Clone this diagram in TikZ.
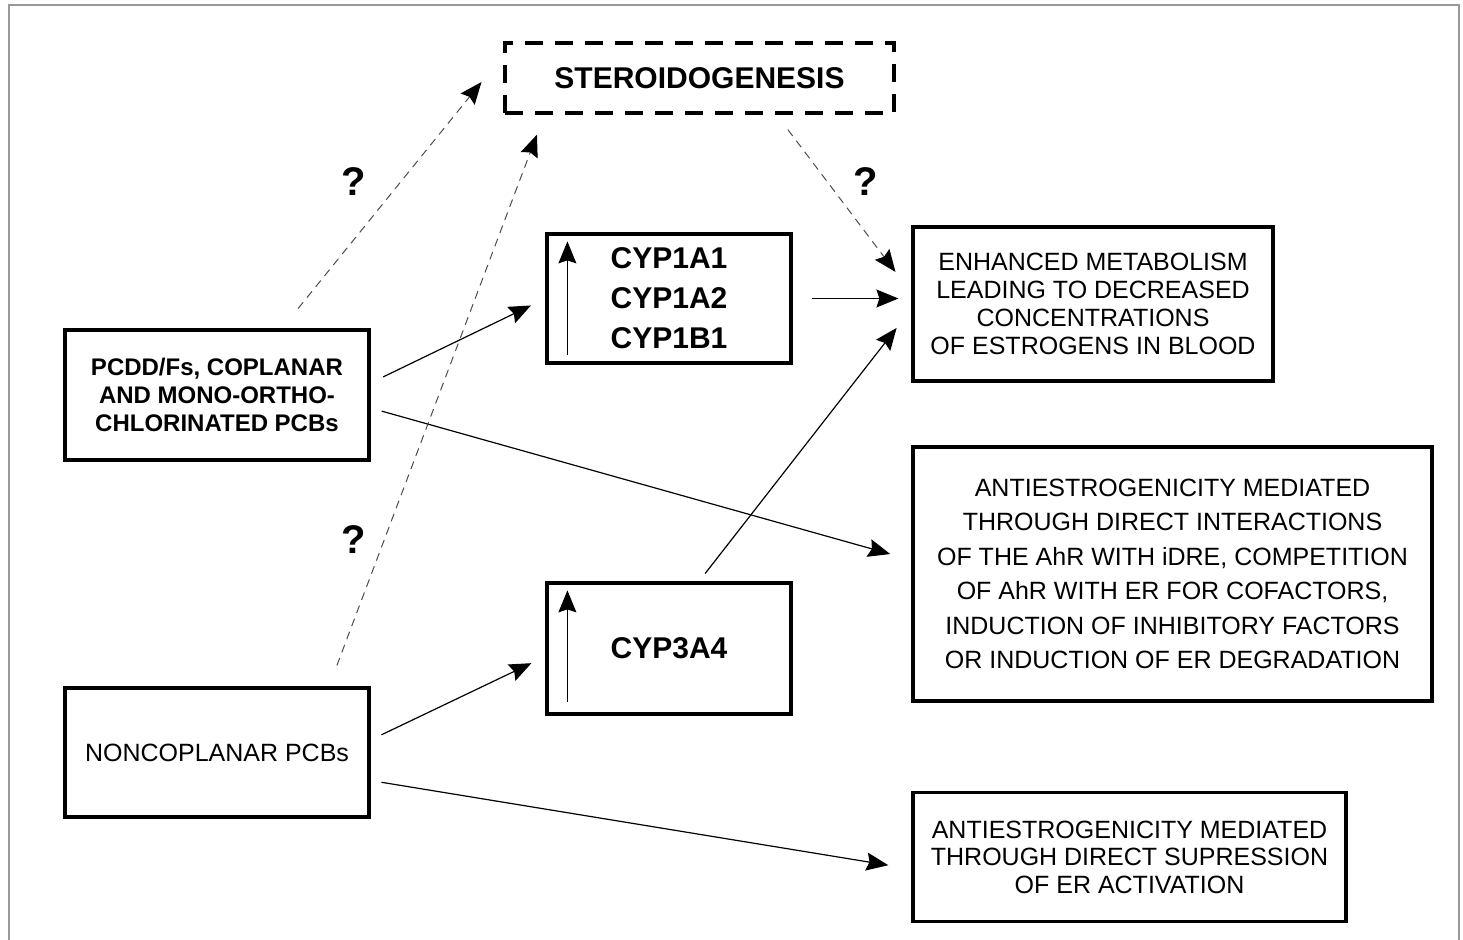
\documentclass[tikz,border=0pt]{standalone}
\usepackage{fontspec}
\setmainfont{Liberation Sans}
\usepackage{tikz}
\usetikzlibrary{arrows.meta,calc}

\begin{document}
\begin{tikzpicture}[x=0.5pt,y=-0.5pt,>={Stealth[length=11pt,width=9pt,inset=1.5pt]},
  box/.style={draw,line width=1.6pt,inner sep=0pt,align=center,font=\fontsize{12.5}{14}\selectfont},
  cyp/.style={box,font=\bfseries\fontsize{15}{20}\selectfont},
  link/.style={->,line width=0.6pt},
  maybe/.style={-{Stealth[length=11pt,width=9pt,inset=1.5pt,black]},black!70,line width=0.5pt,dash pattern=on 4pt off 3pt},
  qmark/.style={font=\bfseries\fontsize{20}{20}\selectfont}]
  \useasboundingbox (0,0) rectangle (1463,940);
  \draw[gray!80,line width=1pt] (9,940) -- (9,5) -- (1459,5) -- (1459,940);
  \node[box,minimum width=152pt,minimum height=65pt,font=\bfseries\fontsize{12}{14}\selectfont] (pcdd) at (217,395) {PCDD/Fs, COPLANAR\\AND MONO-ORTHO-\\CHLORINATED PCBs};
  \node[box,minimum width=152pt,minimum height=64.5pt] (nonco) at (217,752.5) {NONCOPLANAR PCBs};
  \node[cyp,minimum width=194.5pt,minimum height=35pt,dash pattern=on 9pt off 6pt] (steroid) at (699.5,78) {STEROIDOGENESIS};
  \node[cyp,minimum width=122pt,minimum height=64.5pt] (cypa) at (669,298.5) {CYP1A1\\CYP1A2\\CYP1B1};
  \node[cyp,minimum width=122pt,minimum height=65.5pt] (cypb) at (669,648.5) {CYP3A4};
  \node[box,minimum width=180pt,minimum height=77pt] (enh) at (1093,304) {ENHANCED METABOLISM\\LEADING TO DECREASED\\CONCENTRATIONS\\OF ESTROGENS IN BLOOD};
  \node[box,minimum width=259.5pt,minimum height=127pt,font=\fontsize{12.5}{17.25}\selectfont] (anti) at (1172.5,574) {ANTIESTROGENICITY MEDIATED\\THROUGH DIRECT INTERACTIONS\\OF THE AhR WITH iDRE, COMPETITION\\OF AhR WITH ER FOR COFACTORS,\\INDUCTION OF INHIBITORY FACTORS\\OR INDUCTION OF ER DEGRADATION};
  \node[box,minimum width=216.5pt,minimum height=64.5pt,font=\fontsize{12.5}{13.75}\selectfont] (supp) at (1129.5,857) {ANTIESTROGENICITY MEDIATED\\THROUGH DIRECT SUPRESSION\\OF ER ACTIVATION};
  \draw[link] ([shift={(22,-10)}]cypa.south west) -- ([shift={(22,9)}]cypa.north west);
  \draw[link] ([shift={(22,-14)}]cypb.south west) -- ([shift={(22,9)}]cypb.north west);
  \draw[link,shorten <=7pt,shorten >=8pt] ([yshift=6pt]pcdd.east) -- (cypa.west);
  \draw[link,shorten <=9.5pt,shorten >=6.5pt] (cypa.east) -- (cypa.east -| enh.west);
  \draw[link,shorten <=5.75pt,shorten >=11pt] ([yshift=-6.5pt]pcdd.east) -- ([yshift=7pt]anti.west);
  \draw[link,shorten <=6pt,shorten >=7.75pt] ([yshift=6.25pt]nonco.east) -- ([yshift=-4pt]cypb.west);
  \draw[link,shorten <=5pt,shorten >=12pt] ([xshift=15pt]cypb.north) -- ([yshift=-2.5pt]enh.west);
  \draw[link,shorten <=5.5pt,shorten >=11.7pt] ([yshift=-14pt]nonco.east) -- ([yshift=-6pt]supp.west);
  \draw[maybe,shorten <=12.8pt,shorten >=17.4pt] ([xshift=32.5pt]pcdd.north) -- ([yshift=11.5pt]steroid.west);
  \draw[maybe,shorten <=11.2pt,shorten >=10.7pt] ([xshift=56pt]nonco.north) -- ([xshift=-77.5pt]steroid.south);
  \draw[maybe,shorten <=9.4pt,shorten >=13.2pt] ([xshift=38.5pt]steroid.south) -- ([yshift=5.5pt]enh.west);
  \foreach \n/\x/\y in {qa/354/182,qb/354/540,qc/866/182} \node[qmark] (\n) at (\x,\y) {?};
\end{tikzpicture}
\end{document}
